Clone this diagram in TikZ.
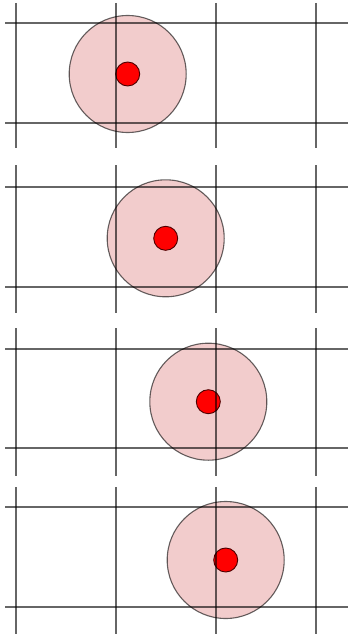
\documentclass[tikz,border=0pt]{standalone}
\definecolor{halo}{RGB}{242,204,204}
\definecolor{dotred}{RGB}{255,0,0}
\tikzset{
  gridline/.style={draw=black, draw opacity=0.6, line width=2pt},
  halocircle/.style={circle, draw=black, draw opacity=0.6, fill=halo, line width=1.1pt, minimum size=117pt, inner sep=0pt},
  dot/.style={circle, draw=black!70!red, fill=dotred, line width=0.9pt, minimum size=24pt, inner sep=0pt}
}
\begin{document}
\begin{tikzpicture}[x=1pt,y=-1pt]
\useasboundingbox (0,0) rectangle (348,634);
\foreach \i/\cx/\cy/\ha/\hb/\vt/\vb in {1/127.7/74/23/123/3/148,
                                  2/165.7/238.3/187/287/165/313,
                                  3/208.3/401.7/349/448/328/476,
                                  4/225.7/560/507/607/487/634}{
  \node[halocircle] (h\i) at (\cx,\cy) {};
  \node[dot] (d\i) at (\cx,\cy) {};
  \foreach \x in {16,116,216,316}{
    \draw[gridline] (\x,\vt) -- (\x,\vb);
  }
  \draw[gridline] (5,\ha) -- (348,\ha);
  \draw[gridline] (5,\hb) -- (348,\hb);
}
\end{tikzpicture}
\end{document}
